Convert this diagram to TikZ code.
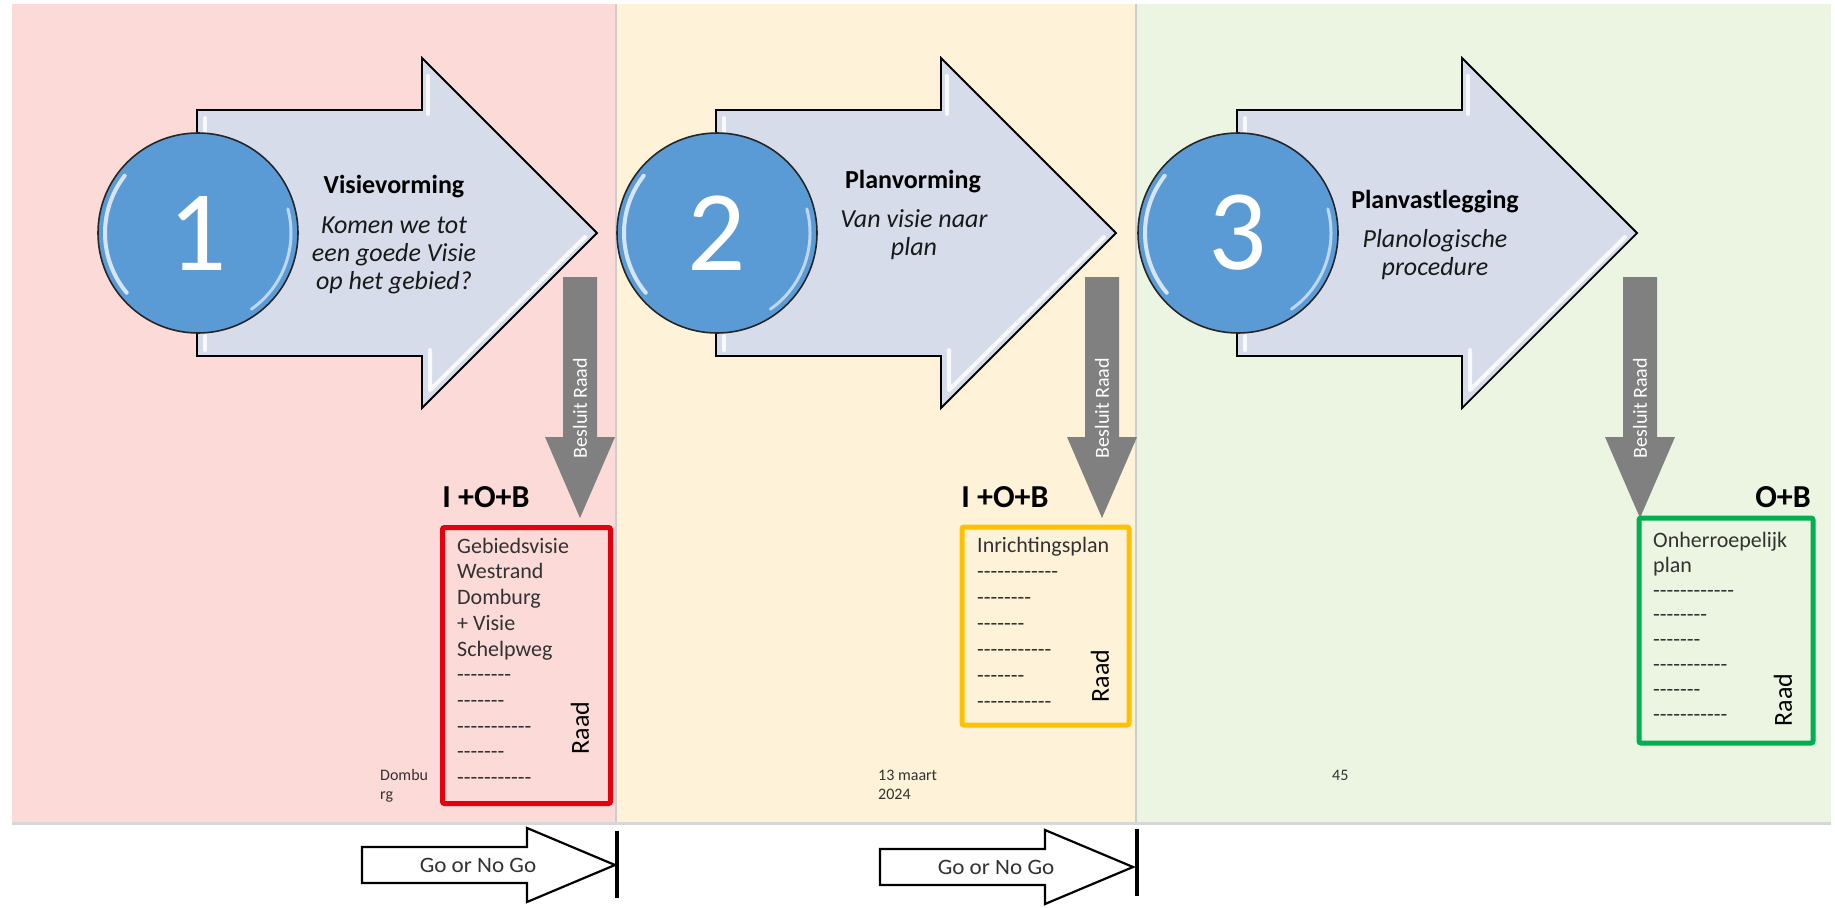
\documentclass[tikz,border=0pt]{standalone}
\usepackage{fontspec}
\usepackage{graphicx}
\setmainfont{Carlito}
\definecolor{pinkbg}{RGB}{251,218,216}
\definecolor{yellowbg}{RGB}{254,243,216}
\definecolor{greenbg}{RGB}{236,245,226}
\definecolor{arrowfill}{RGB}{214,220,234}
\definecolor{circblue}{RGB}{91,155,213}
\definecolor{decgrey}{RGB}{128,128,128}
\definecolor{boxred}{RGB}{228,0,12}
\definecolor{boxyellow}{RGB}{255,192,0}
\definecolor{boxgreen}{RGB}{0,176,80}
\definecolor{sepgrey}{RGB}{205,205,205}
\definecolor{txtgrey}{RGB}{50,50,50}
\ExplSyntaxOn
\cs_new:Npn \DashRun #1 { \prg_replicate:nn {#1} { -\kern0pt } }
\ExplSyntaxOff
\newcommand\FirstStrut{\rule{0pt}{17pt}}
\tikzset{
  bigarrow/.style={fill=arrowfill, draw=black, line width=1.8pt, line join=miter},
  hl/.style={draw=white, line width=4pt, opacity=0.85, line cap=round, line join=round},
  circ/.style={circle, fill=circblue, draw=black!85, line width=1.6pt, minimum size=200pt, inner sep=0pt, text=white, font=\fontsize{115}{115}\selectfont},
  ttl/.style={anchor=base, font=\bfseries\fontsize{26}{30}\selectfont, text=black, inner sep=0pt},
  sub/.style={anchor=base, font=\itshape\fontsize{26}{30}\selectfont, text=black!90, inner sep=0pt},
  decarrow/.style={fill=decgrey},
  dectext/.style={rotate=90, text=white, font=\fontsize{20}{20}\selectfont, inner sep=0pt},
  outbox/.style={draw=#1, line width=5pt, rounded corners=2pt, anchor=north west, inner sep=0pt},
  boxtext/.style={anchor=north west, align=left, inner sep=0pt, text=txtgrey, font=\fontsize{22}{25.7}\selectfont},
  raadtext/.style={rotate=90, inner sep=0pt, text=black, font=\fontsize{26}{26}\selectfont},
  iob/.style={font=\bfseries\fontsize{32}{32}\selectfont, inner sep=0pt, text=black},
  foot/.style={anchor=north west, align=left, inner sep=0pt, text=txtgrey, font=\fontsize{16}{19}\selectfont},
  goarrow/.style={fill=white, draw=black, line width=2.2pt, line join=miter},
  gotext/.style={text=txtgrey, font=\fontsize{22}{22}\selectfont, inner sep=0pt},
  gobar/.style={draw=black, line width=4pt}
}
\newcommand\PhaseArrow[1]{%
  \draw[bigarrow] (#1,110) -- (#1+225,110) -- (#1+225,58) -- (#1+400,233) -- (#1+225,408) -- (#1+225,356) -- (#1,356) -- cycle;
  \draw[hl] (#1+231,76) -- (#1+231,114);
  \draw[hl] (#1+233,350) -- (#1+233,390) -- (#1+388,237);
  \draw[hl] (#1+8,118) -- (#1+8,132);
  \draw[hl] (#1+8,336) -- (#1+8,350);
}
\newcommand\CircHL[1]{%
  \draw[hl, line width=4pt, opacity=0.75] (#1.center) ++(140:93) arc (140:218:93);
  \draw[hl, line width=3pt, opacity=0.6] (#1.center) ++(-15:93) arc (-15:55:93);
}
\newcommand\DecArrow[2]{%
  \fill[decarrow] (#1-17,277) -- (#1+17,277) -- (#1+17,437) -- (#1+35,437) -- (#1,518) -- (#1-35,437) -- (#1-17,437) -- cycle;
  \node[dectext] (#2) at (#1,408) {Besluit Raad};
}
\newcommand\GoArrow[2]{%
  \draw[goarrow] (#1,#2-18) -- (#1+165,#2-18) -- (#1+165,#2-37) -- (#1+253,#2) -- (#1+165,#2+37) -- (#1+165,#2+18) -- (#1,#2+18) -- cycle;
}
\begin{document}
\begin{tikzpicture}[x=1pt, y=-1pt]
\useasboundingbox (0,0) rectangle (1835,907);
% panels
\fill[pinkbg] (12,4) rectangle (616,822);
\fill[yellowbg] (616,4) rectangle (1136,822);
\fill[greenbg] (1136,4) rectangle (1831,822);
\draw[sepgrey, line width=2.5pt] (616,4) -- (616,822);
\draw[sepgrey, line width=2.5pt] (1136,4) -- (1136,822);
\draw[sepgrey!80, line width=3pt] (12,823.5) -- (1831,823.5);

% phase arrows
\PhaseArrow{197}
\PhaseArrow{716}
\PhaseArrow{1237}

% circles
\node[circ] (c1) at (198,233) {1};
\node[circ] (c2) at (717,233) {2};
\node[circ] (c3) at (1238,233) {3};
\CircHL{c1}
\CircHL{c2}
\CircHL{c3}

% phase texts
\node[ttl] (t1) at (394,193) {Visievorming};
\node[sub] (s1a) at (394,233) {Komen we tot};
\node[sub] (s1b) at (394,261) {een goede Visie};
\node[sub] (s1c) at (394,289) {op het gebied?};
\node[ttl] (t2) at (913,188) {Planvorming};
\node[sub] (s2a) at (914,227) {Van visie naar};
\node[sub] (s2b) at (914,255) {plan};
\node[ttl] (t3) at (1435,208) {Planvastlegging};
\node[sub] (s3a) at (1435,247) {Planologische};
\node[sub] (s3b) at (1435,275) {procedure};

% decision arrows
\DecArrow{580}{d1}
\DecArrow{1102}{d2}
\DecArrow{1640}{d3}

% labels
\node[iob] (l1) at (486,497) {I +O+B};
\node[iob] (l2) at (1005,497) {I +O+B};
\node[iob, anchor=east] (l3) at (1811,497) {O+B};

% boxes
\node[outbox=boxred, minimum width=168pt, minimum height=276pt] (b1) at (440,525) {};
\node[outbox=boxyellow, minimum width=167pt, minimum height=198pt] (b2) at (959.5,524.5) {};
\node[outbox=boxgreen, minimum width=174pt, minimum height=225pt] (b3) at (1636.5,515.5) {};

\node[boxtext] (bt1) at (457,536) {\FirstStrut Gebiedsvisie\\Westrand\\Domburg\\+ Visie\\Schelpweg\\\DashRun{8}\\\DashRun{7}\\\DashRun{11}\\\DashRun{7}\\\DashRun{11}};
\node[boxtext, font=\fontsize{22}{26}\selectfont] (bt2) at (977,535) {\FirstStrut Inrichtingsplan\\\DashRun{12}\\\DashRun{8}\\\DashRun{7}\\\DashRun{11}\\\DashRun{7}\\\DashRun{11}};
\node[boxtext, font=\fontsize{22}{24.9}\selectfont] (bt3) at (1653,530) {\FirstStrut Onherroepelijk\\plan\\\DashRun{12}\\\DashRun{8}\\\DashRun{7}\\\DashRun{11}\\\DashRun{7}\\\DashRun{11}};

\node[raadtext] (r1) at (580,728) {Raad};
\node[raadtext] (r2) at (1100,676) {Raad};
\node[raadtext] (r3) at (1783,700) {Raad};

% footer
\node[foot] (f1) at (380,768) {\rule{0pt}{12pt}Dombu\\rg};
\node[foot] (f2) at (878,768) {\rule{0pt}{12pt}13 maart\\2024};
\node[foot] (f3) at (1332,768) {\rule{0pt}{12pt}45};

% go / no go
\GoArrow{362}{865}
\node[gotext] (g1) at (478,865) {\scalebox{1.05}[1]{Go or No Go}};
\draw[gobar] (617,831) -- (617,898);
\GoArrow{880}{867}
\node[gotext] (g2) at (996,867) {\scalebox{1.05}[1]{Go or No Go}};
\draw[gobar] (1137,829) -- (1137,896);
\end{tikzpicture}
\end{document}
